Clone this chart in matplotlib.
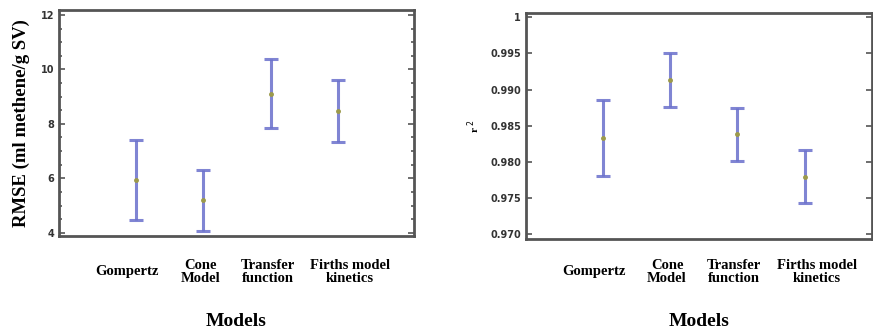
import matplotlib
matplotlib.use("Agg")
import matplotlib.pyplot as plt
import matplotlib.transforms as mtransforms
import numpy as np
from matplotlib.ticker import MultipleLocator

models = ["Gompertz", "Cone\nModel", "Transfer\nfunction", "Firths model\nkinetics"]

rmse_mean = [5.94, 5.20, 9.11, 8.48]
rmse_upper = [7.41, 6.31, 10.37, 9.61]
rmse_lower = [4.48, 4.07, 7.84, 7.35]

r2_mean = [0.9833, 0.9913, 0.9838, 0.9779]
r2_upper = [0.9886, 0.9950, 0.9874, 0.9816]
r2_lower = [0.9780, 0.9876, 0.9801, 0.9743]

r2_ticks = [0.970, 0.975, 0.980, 0.985, 0.990, 0.995, 1.0]
r2_ticklabels = ["0.970", "0.975", "0.980", "0.985", "0.990", "0.995", "1"]

serif = ["Liberation Serif", "DejaVu Serif"]
bar_color = "#6a70cc"
dot_color = "#9c9a4a"
spine_color = "#555555"
label_shift_px = [-9, -3, -3, 12]

fig = plt.figure(figsize=(8.73, 3.31), dpi=100)
ax1 = fig.add_axes([59/873, 1-236/331, (414-59)/873, (236-10)/331])
ax2 = fig.add_axes([526/873, 1-239/331, (872-526)/873, (239-13)/331])


def draw(ax, mean, lower, upper):
    x = np.arange(len(mean))
    mean = np.array(mean)
    yerr = [mean - np.array(lower), np.array(upper) - mean]
    ax.errorbar(x, mean, yerr=yerr, fmt="none", ecolor=bar_color, elinewidth=2.2,
                capsize=5, capthick=2.2, alpha=0.85, zorder=2)
    ax.plot(x, mean, "o", color=dot_color, markersize=2.5, zorder=3)
    ax.set_xticks(x)
    ax.set_xticklabels([""] * len(x))
    base = mtransforms.blended_transform_factory(ax.transData, fig.transFigure)
    for xi, name, dx in zip(x, models, label_shift_px):
        tr = base + mtransforms.ScaledTranslation(dx / 100, 0, fig.dpi_scale_trans)
        ax.text(xi, 1 - 272 / 331, name, transform=tr, ha="center", va="center",
                multialignment="center", fontfamily=serif, fontweight="bold",
                fontsize=10.5, linespacing=0.95)
    ax.tick_params(axis="x", length=0)
    ax.tick_params(axis="y", which="both", direction="in", left=True, right=True,
                   colors=spine_color, labelsize=7, width=1.2)
    ax.tick_params(axis="y", which="major", length=4)
    ax.tick_params(axis="y", which="minor", length=2.5)
    for s in ax.spines.values():
        s.set_color(spine_color)
        s.set_linewidth(2)
    ax.set_xlabel("Models", fontfamily=serif, fontweight="bold", fontsize=14,
                  labelpad=0)
    ax.xaxis.set_label_coords(0.5, 1 - 321 / 331,
                              transform=mtransforms.blended_transform_factory(
                                  ax.transAxes, fig.transFigure))
    ax.xaxis.label.set_verticalalignment("center")


draw(ax1, rmse_mean, rmse_lower, rmse_upper)
ax1.set_xlim(-1.14, 4.13)
ax1.set_ylim(3.88, 12.18)
ax1.yaxis.set_major_locator(MultipleLocator(2))
ax1.yaxis.set_minor_locator(MultipleLocator(0.5))
for lab in ax1.get_yticklabels():
    lab.set_fontweight("bold")
    lab.set_color("#333333")
ax1.set_ylabel("RMSE (ml methene/g SV)", fontfamily=serif, fontweight="bold",
               fontsize=13.5, labelpad=8)

draw(ax2, r2_mean, r2_lower, r2_upper)
ax2.set_xlim(-1.14, 4.0)
ax2.set_ylim(0.9693, 1.0006)
ax2.set_yticks(r2_ticks)
ax2.set_yticklabels(r2_ticklabels, fontweight="bold", color="#333333", fontsize=7)
ax2.set_ylabel(r"r $^{2}$", fontfamily=serif, fontweight="bold", fontsize=8,
               labelpad=6)

fig.savefig("out.png", dpi=100)
